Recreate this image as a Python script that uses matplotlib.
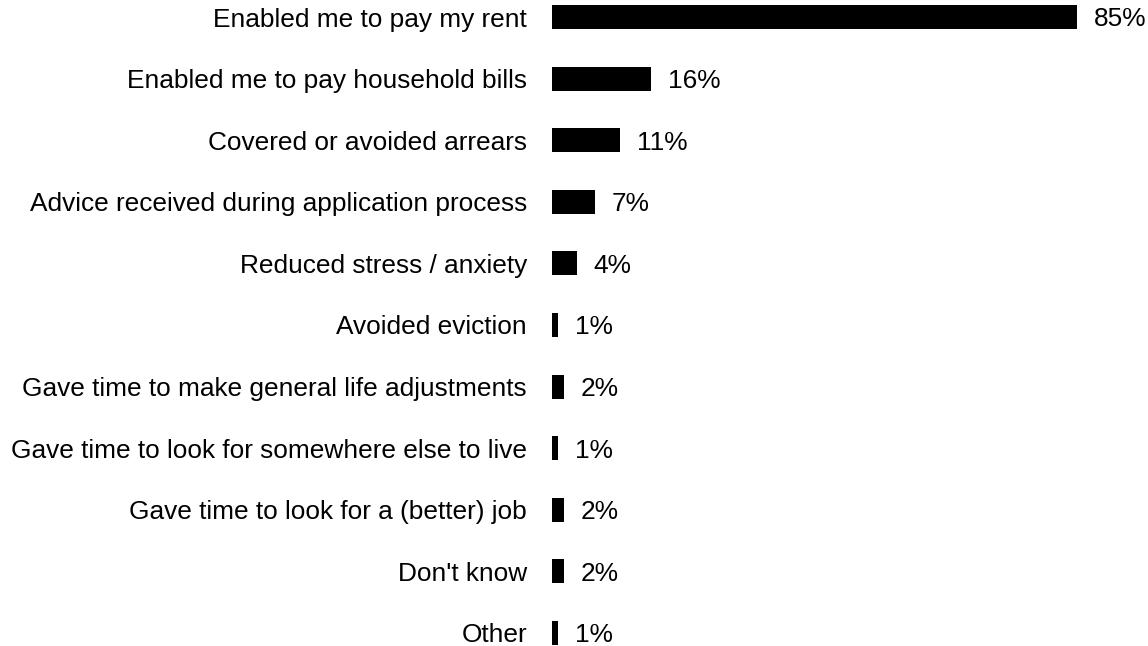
import matplotlib.pyplot as plt

plt.rcParams['font.family'] = ['Liberation Sans', 'DejaVu Sans']

labels = [
    "Enabled me to pay my rent",
    "Enabled me to pay household bills",
    "Covered or avoided arrears",
    "Advice received during application process",
    "Reduced stress / anxiety",
    "Avoided eviction",
    "Gave time to make general life adjustments",
    "Gave time to look for somewhere else to live",
    "Gave time to look for a (better) job",
    "Don't know",
    "Other",
]
values = [85, 16, 11, 7, 4, 1, 2, 1, 2, 2, 1]

fig = plt.figure(figsize=(11.48, 6.46), dpi=100)
ax = fig.add_axes([552 / 1148, 0, 1 - 552 / 1148, 1])

pos = list(range(len(labels)))
ax.barh(pos, values, height=0.39, color='black')

# row 0 centred 17px from the top, rows 61.6px apart
step = 61.6
ax.set_ylim(10 + (646 - 17 - 10 * step) / step, -17 / step)
ax.set_xlim(0, 596 / 6.18)

ax.set_yticks(pos)
ax.set_yticklabels(labels, fontsize=18.9)
ax.tick_params(axis='y', length=0, pad=18)
ax.set_xticks([])
for s in ax.spines.values():
    s.set_visible(False)

for y, v in zip(pos, values):
    ax.annotate(f"{v}%", (v, y), xytext=(12, 0), textcoords='offset points',
                va='center_baseline', ha='left', fontsize=18.9)

fig.savefig('out.png', dpi=100)
